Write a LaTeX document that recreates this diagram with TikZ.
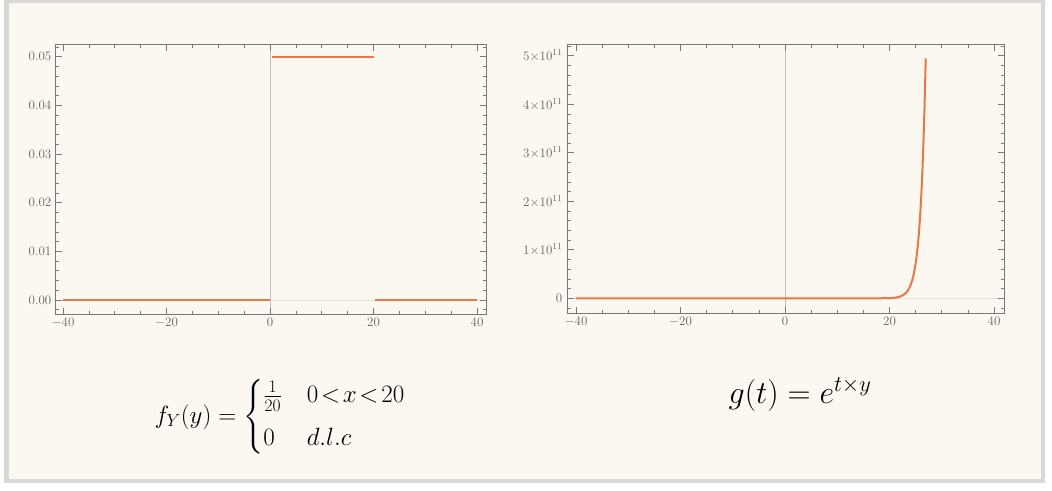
\RequirePackage{fix-cm}
\documentclass[tikz,border=0pt]{standalone}
\usepackage{amsmath}
\definecolor{cream}{RGB}{251,248,241}
\definecolor{framegray}{RGB}{216,216,216}
\definecolor{axgray}{RGB}{120,120,120}
\definecolor{labgray}{RGB}{100,100,100}
\definecolor{zerox}{RGB}{190,190,190}
\definecolor{zeroy}{RGB}{222,222,222}
\definecolor{curve}{RGB}{232,120,70}
\tikzset{
  plotframe/.style={draw=axgray, line width=0.9pt},
  tickmark/.style={draw=axgray, line width=0.7pt},
  ticklab/.style={text=labgray, font=\fontsize{13}{15}\selectfont, inner sep=0pt},
  orangeline/.style={draw=curve, line width=2.4pt},
  orangecurve/.style={draw=curve, line width=2pt, line join=round},
  vaxis/.style={draw=zerox, line width=0.8pt},
  haxis/.style={draw=zeroy, line width=0.8pt},
  formula/.style={inner sep=0pt, font=\fontsize{25}{30}\selectfont},
  bigformula/.style={inner sep=0pt, font=\fontsize{32}{38}\selectfont},
}
\begin{document}
\begin{tikzpicture}[x=1pt,y=-1pt]
\useasboundingbox (0,0) rectangle (1052,490);
\fill[white] (0,0) rectangle (1052,490);
\fill[cream] (4,0) rectangle (1045,483);
\draw[framegray, line width=4.5pt] (6.25,1) rectangle (1042.75,480.75);

% ---------- left plot ----------
\draw[haxis] (55,300) -- (486,300);
\draw[vaxis] (270,44) -- (270,314);
% x ticks
\foreach \i in {-8,...,8} {
  \pgfmathsetmacro\px{270+5.175*5*\i}
  \draw[tickmark] (\px,314) -- (\px,310.5);
  \draw[tickmark] (\px,44) -- (\px,47.5);
}
\foreach \i/\lab in {-40/$-40$,-20/$-20$,0/0,20/20,40/40} {
  \pgfmathsetmacro\px{270+5.175*\i}
  \draw[tickmark] (\px,314) -- (\px,307.5);
  \draw[tickmark] (\px,44) -- (\px,50.5);
  \node[ticklab, anchor=north] (lx\i) at (\px,318) {\lab};
}
% y ticks
\foreach \j in {-1,...,26} {
  \pgfmathsetmacro\py{300-9.732*\j}
  \draw[tickmark] (55,\py) -- (58.5,\py);
  \draw[tickmark] (486,\py) -- (482.5,\py);
}
\foreach \j/\lab in {0/0.00,1/0.01,2/0.02,3/0.03,4/0.04,5/0.05} {
  \pgfmathsetmacro\py{300-48.66*\j}
  \draw[tickmark] (55,\py) -- (61.5,\py);
  \draw[tickmark] (486,\py) -- (479.5,\py);
  \node[ticklab, anchor=east] (ly\j) at (51.5,\py) {\lab};
}
\draw[orangeline] (63,300) -- (270,300);
\draw[orangeline] (271.5,56.7) -- (373.5,56.7);
\draw[orangeline] (375,300) -- (477,300);
\draw[plotframe] (55,44) rectangle (486,314);

% ---------- right plot ----------
\draw[haxis] (567,298.3) -- (1004,298.3);
\draw[vaxis] (785,44) -- (785,313);
\foreach \i in {-8,...,8} {
  \pgfmathsetmacro\px{785+5.225*5*\i}
  \draw[tickmark] (\px,313) -- (\px,309.5);
  \draw[tickmark] (\px,44) -- (\px,47.5);
}
\foreach \i/\lab in {-40/$-40$,-20/$-20$,0/0,20/20,40/40} {
  \pgfmathsetmacro\px{785+5.225*\i}
  \draw[tickmark] (\px,313) -- (\px,306.5);
  \draw[tickmark] (\px,44) -- (\px,50.5);
  \node[ticklab, anchor=north] (rx\i) at (\px,317) {\lab};
}
\foreach \j in {-1,...,26} {
  \pgfmathsetmacro\py{298.3-9.7*\j}
  \draw[tickmark] (567,\py) -- (570.5,\py);
  \draw[tickmark] (1004,\py) -- (1000.5,\py);
}
\foreach \j/\lab in {0/0,1/$1{\times}10^{11}$,2/$2{\times}10^{11}$,3/$3{\times}10^{11}$,4/$4{\times}10^{11}$,5/$5{\times}10^{11}$} {
  \pgfmathsetmacro\py{298.3-48.5*\j}
  \draw[tickmark] (567,\py) -- (573.5,\py);
  \draw[tickmark] (1004,\py) -- (997.5,\py);
  \node[ticklab, anchor=east] (ry\j) at (562.5,\py) {\lab};
}
\draw[orangecurve] (576,298.3) -- ({785+5.225*15},298.3)
  -- plot[domain=15:26.928, samples=160, variable=\t] ({785+5.225*\t},{298.3-48.5*exp(\t-25.3284)});
\draw[plotframe] (567,44) rectangle (1004,313);

% ---------- formulas ----------
\node[formula, anchor=base] (fy) at (280,423)
  {$f_Y(y)=\begin{cases}\frac{1}{20} & 0\!<\!x\!<\!20\\[7pt] 0 & d.l.c\end{cases}$};
\node[bigformula, anchor=base] (gt) at (800,403) {$g(t)=e^{t\times y}$};
\end{tikzpicture}
\end{document}
